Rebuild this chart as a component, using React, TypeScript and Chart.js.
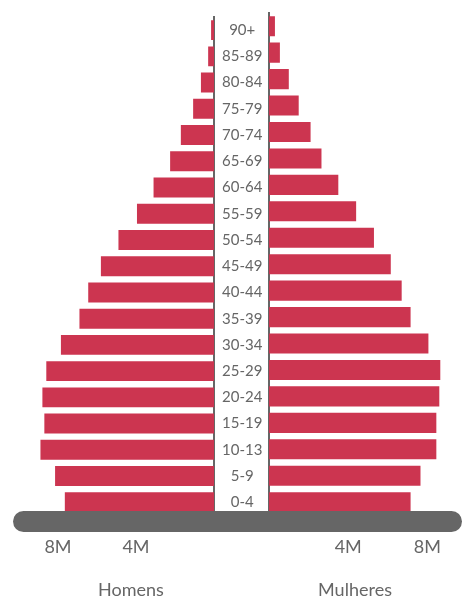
import React, { useEffect, useRef } from 'react';
import { Chart, registerables } from 'chart.js';

Chart.register(...registerables);

// Age groups, top to bottom
const ageGroups = ['90+', '85-89', '80-84', '75-79', '70-74', '65-69', '60-64', '55-59', '50-54', '45-49', '40-44', '35-39', '30-34', '25-29', '20-24', '15-19', '10-13', '5-9', '0-4'];
// Population in millions
const menMillions = [0.15, 0.3, 0.67, 1.07, 1.7, 2.25, 3.1, 3.95, 4.9, 5.8, 6.45, 6.9, 7.85, 8.6, 8.8, 8.7, 8.9, 8.15, 7.65];
const womenMillions = [0.3, 0.55, 1.0, 1.5, 2.1, 2.65, 3.5, 4.4, 5.3, 6.15, 6.7, 7.15, 8.05, 8.65, 8.6, 8.45, 8.45, 7.65, 7.15];
const tickValues = [4, 8];
const tickSuffix = 'M';
const sideTitles = ['Homens', 'Mulheres'];

const BAR = '#cc3550';
const GREY = '#666666';
const FONT = 'Lato, "Noto Sans", sans-serif';

function xScale(reverse: boolean, max: number) {
  return {
    type: 'linear' as const,
    reverse,
    min: 0,
    max,
    afterBuildTicks: (s: any) => {
      s.ticks = tickValues.map((v) => ({ value: v }));
    },
    ticks: {
      callback: (v: any) => v + tickSuffix,
      color: GREY,
      font: { family: FONT, size: 18 },
      padding: 21,
      maxRotation: 0,
      autoSkip: false,
    },
    grid: { display: false, drawTicks: false },
    border: { display: false },
  };
}

export default function App() {
  const leftRef = useRef<HTMLCanvasElement | null>(null);
  const rightRef = useRef<HTMLCanvasElement | null>(null);

  useEffect(() => {
    const left = new Chart(leftRef.current!, {
      type: 'bar',
      data: {
        labels: ageGroups,
        datasets: [
          {
            label: sideTitles[0],
            data: menMillions,
            backgroundColor: BAR,
            borderWidth: 0,
            barPercentage: 0.76,
            categoryPercentage: 1,
          },
        ],
      },
      options: {
        responsive: false,
        animation: false,
        indexAxis: 'y',
        layout: { padding: { left: 19, top: 13, right: 0, bottom: 0 } },
        plugins: { legend: { display: false }, tooltip: { enabled: false } },
        scales: {
          x: xScale(true, 10) as any,
          y: {
            position: 'right',
            afterFit: (s: any) => {
              s.width = 54;
            },
            grid: { display: false, drawTicks: false },
            border: { display: true, color: GREY, width: 2 },
            ticks: {
              color: GREY,
              font: { family: FONT, size: 15 },
              crossAlign: 'center',
              padding: 8,
              autoSkip: false,
            },
          },
        },
      },
    });

    const right = new Chart(rightRef.current!, {
      type: 'bar',
      data: {
        labels: ageGroups,
        datasets: [
          {
            label: sideTitles[1],
            data: womenMillions,
            backgroundColor: BAR,
            borderWidth: 0,
            barPercentage: 0.76,
            categoryPercentage: 1,
          },
        ],
      },
      options: {
        responsive: false,
        animation: false,
        indexAxis: 'y',
        layout: { padding: { left: 0, top: 13, right: 0, bottom: 0 } },
        plugins: { legend: { display: false }, tooltip: { enabled: false } },
        scales: {
          x: xScale(false, 9.65) as any,
          y: {
            position: 'left',
            afterFit: (s: any) => {
              s.width = 1;
            },
            grid: { display: false, drawTicks: false },
            border: { display: true, color: GREY, width: 2 },
            ticks: { display: false },
          },
        },
      },
    });

    return () => {
      left.destroy();
      right.destroy();
    };
  }, []);

  const titleStyle: React.CSSProperties = {
    position: 'absolute',
    top: 578,
    width: 140,
    textAlign: 'center',
    fontFamily: FONT,
    fontSize: 18,
    lineHeight: '22px',
    color: GREY,
  };

  return (
    <div
      style={{
        position: 'absolute',
        left: 0,
        top: 0,
        width: 462,
        height: 599,
        overflow: 'hidden',
        background: '#ffffff',
      }}
    >
      <canvas
        ref={leftRef}
        width={268}
        height={579}
        style={{ position: 'absolute', left: 0, top: 0, display: 'block' }}
      />
      <canvas
        ref={rightRef}
        width={194}
        height={579}
        style={{ position: 'absolute', left: 268, top: 0, display: 'block' }}
      />
      <div
        style={{
          position: 'absolute',
          left: 13,
          top: 511,
          width: 449,
          height: 21,
          borderRadius: 10.5,
          background: GREY,
          zIndex: 2,
        }}
      />
      <div style={{ ...titleStyle, left: 61 }}>{sideTitles[0]}</div>
      <div style={{ ...titleStyle, left: 285 }}>{sideTitles[1]}</div>
    </div>
  );
}
